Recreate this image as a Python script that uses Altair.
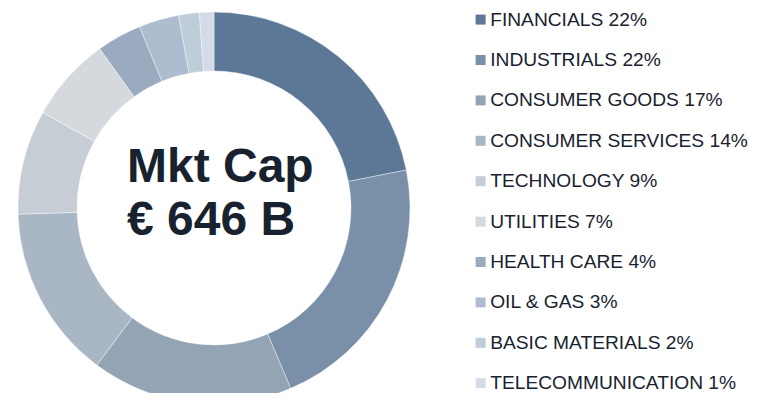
import altair as alt
import pandas as pd

sectors = ["FINANCIALS", "INDUSTRIALS", "CONSUMER GOODS", "CONSUMER SERVICES",
           "TECHNOLOGY", "UTILITIES", "HEALTH CARE", "OIL & GAS",
           "BASIC MATERIALS", "TELECOMMUNICATION"]
shares = [21.9, 21.7, 16.6, 14.3, 8.6, 7.0, 3.7, 3.3, 1.7, 1.2]
label_pct = [22, 22, 17, 14, 9, 7, 4, 3, 2, 1]
colors = ["#5D7896", "#7A8FA8", "#93A4B5", "#A9B6C3", "#C6CDD5",
          "#D5D9DD", "#9AABC0", "#ADBDCF", "#BFCCDA", "#D3DCE6"]
center_text = ["Mkt Cap", "€ 646 B"]

labels = [f"{s} {p}%" for s, p in zip(sectors, label_pct)]
df = pd.DataFrame({"label": labels, "share": shares, "idx": list(range(len(labels)))})
tdf = pd.DataFrame({"t": ["\n".join(center_text)]})

TEXT = "#18222F"

donut = alt.Chart(df).mark_arc(outerRadius=196, innerRadius=137, stroke="#ffffff", strokeWidth=0.4).encode(
    theta=alt.Theta("share:Q", stack=True),
    order=alt.Order("idx:Q"),
    color=alt.Color(
        "label:N",
        scale=alt.Scale(domain=labels, range=colors),
        legend=alt.Legend(
            title=None,
            orient="none",
            legendX=463,
            legendY=2,
            symbolType="square",
            symbolSize=100,
            symbolStrokeWidth=0,
            labelFont="Liberation Sans",
            labelFontSize=19.2,
            labelColor=TEXT,
            labelOffset=0,
            labelLimit=400,
            rowPadding=20.4,
            padding=0,
        ),
    ),
    x=alt.value(206),
    y=alt.value(200),
)

center = alt.Chart(tdf).mark_text(
    align="left", baseline="alphabetic", lineBreak="\n", lineHeight=53,
    font="Liberation Sans", fontWeight="bold", fontSize=48, color=TEXT,
).encode(text="t:N", x=alt.value(119), y=alt.value(174))

chart = alt.layer(donut, center).properties(
    width=743, height=385, padding=0,
    autosize=alt.AutoSizeParams(type="none"),
).configure_view(stroke=None)

chart.save("out.html", embed_options={"renderer": "svg", "actions": False})
